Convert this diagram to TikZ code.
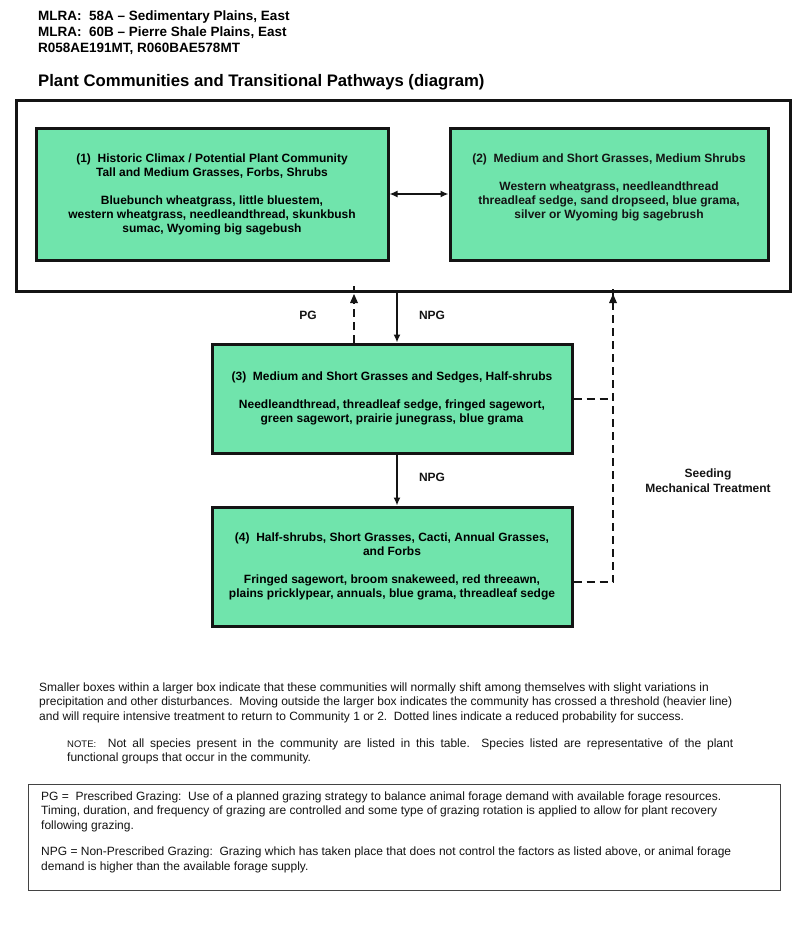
\documentclass[tikz,border=0pt]{standalone}
\usepackage{fontspec}
\setmainfont{Liberation Sans}
\usetikzlibrary{arrows.meta}
\definecolor{boxgreen}{RGB}{112,228,172}
\definecolor{ink}{RGB}{20,20,20}
\begin{document}
\begin{tikzpicture}[x=1pt,y=-1pt,
  commbox/.style={draw=ink,line width=3pt,fill=boxgreen,inner sep=0pt,align=center,
    font=\bfseries\fontsize{12}{14}\selectfont},
  lbl/.style={font=\bfseries\fontsize{12}{14}\selectfont,align=center,text=ink},
  arr/.style={draw=ink,line width=1.5pt,-{Latex[length=8pt,width=7pt]}},
  dasharr/.style={draw=ink,line width=2pt,dash pattern=on 8pt off 5pt},
  body/.style={font=\fontsize{12}{14.5}\selectfont,align=left,text=ink,inner sep=0pt}
]
\useasboundingbox (0,0) rectangle (800,948);
\fill[white] (0,0) rectangle (800,948);

% header
\node[anchor=base west,inner sep=0pt,align=left,font=\bfseries\fontsize{13.5}{16}\selectfont] (hdr) at (38,52)
  {MLRA:\ \ 58A -- Sedimentary Plains, East\\MLRA:\ \ 60B -- Pierre Shale Plains, East\\R058AE191MT, R060BAE578MT};
\node[anchor=base west,inner sep=0pt,font=\bfseries\fontsize{16.7}{18}\selectfont] (title) at (38,86)
  {Plant Communities and Transitional Pathways (diagram)};

% outer box
\node[draw=ink,line width=3pt,minimum width=774pt,minimum height=191pt,inner sep=0pt] (outer) at (403,195.5) {};

% community boxes
\node[commbox,minimum width=352pt,minimum height=132pt] (box1) at (212,194)
  {(1)\ \ Historic Climax / Potential Plant Community\\Tall and Medium Grasses, Forbs, Shrubs\\[14pt]
   Bluebunch wheatgrass, little bluestem,\\western wheatgrass, needleandthread, skunkbush\\sumac, Wyoming big sagebush};
\node[commbox,minimum width=318pt,minimum height=132pt] (box2) at (609,194) {};
\node[lbl,anchor=base] (t2) at (609,218)
  {(2)\ \ Medium and Short Grasses, Medium Shrubs\\[14pt]
   Western wheatgrass, needleandthread\\threadleaf sedge, sand dropseed, blue grama,\\silver or Wyoming big sagebrush};
\node[commbox,minimum width=360pt,minimum height=109pt] (box3) at (392,398.5)
  {(3)\ \ Medium and Short Grasses and Sedges, Half-shrubs\\[14pt]
   Needleandthread, threadleaf sedge, fringed sagewort,\\green sagewort, prairie junegrass, blue grama};
\node[commbox,minimum width=360pt,minimum height=119pt] (box4) at (392,566.5)
  {(4)\ \ Half-shrubs, Short Grasses, Cacti, Annual Grasses,\\and Forbs\\[14pt]
   Fringed sagewort, broom snakeweed, red threeawn,\\plains pricklypear, annuals, blue grama, threadleaf sedge};

% helper coordinates
\coordinate (pgx) at (354,0);
\coordinate (npgx) at (397,0);
\coordinate (seedx) at (613,0);
\coordinate (j3) at (613,399);
\coordinate (j4) at (613,582);

% connectors
\draw[draw=ink,line width=1.5pt,{Latex[length=8pt,width=7pt]}-{Latex[length=8pt,width=7pt]}] (box1.east) -- (box2.west);
\draw[arr] (outer.south -| npgx) -- (box3.north -| npgx);
\draw[arr] (box3.south -| npgx) -- (box4.north -| npgx);
\draw[dasharr] (box3.north -| pgx) -- ([yshift=7pt]outer.south -| pgx);
\fill[ink] (outer.south -| pgx) ++(0,1.5) -- ++(-4,9) -- ++(8,0) -- cycle;
\draw[dasharr] (box3.east |- j3) -- (j3);
\draw[dasharr] (box4.east |- j4) -- (j4) -- ([yshift=7pt]outer.south -| seedx);
\fill[ink] (outer.south -| seedx) ++(0,1.5) -- ++(-4,9) -- ++(8,0) -- cycle;

% labels
\node[lbl] (pg) at (308,315) {PG};
\node[lbl] (npg1) at (432,315) {NPG};
\node[lbl] (npg2) at (432,477) {NPG};
\node[lbl,font=\bfseries\fontsize{12}{15}\selectfont] (seed) at (708,481) {Seeding\\Mechanical Treatment};

% explanatory text
\node[body,anchor=base west] (para) at (39,720)
  {Smaller boxes within a larger box indicate that these communities will normally shift among themselves with slight variations in\\
   precipitation and other disturbances.\ \ Moving outside the larger box indicates the community has crossed a threshold (heavier line)\\
   and will require intensive treatment to return to Community 1 or 2.\ \ Dotted lines indicate a reduced probability for success.};
\node[body,anchor=base west,text width=666pt,align=justify] (note) at (67,747)
  {{\fontsize{9.5}{14.5}\selectfont NOTE:}\ \ Not all species present in the community are listed in this table.\ \ Species listed are representative of the plant\linebreak functional groups that occur in the community.};

% definitions box
\node[draw=ink!80,line width=1pt,minimum width=752pt,minimum height=106pt,inner sep=0pt] (defbox) at (404,837) {};
\node[body,anchor=base west] (pgdef) at (41,829)
  {PG =\ \ Prescribed Grazing:\ \ Use of a planned grazing strategy to balance animal forage demand with available forage resources.\\
   Timing, duration, and frequency of grazing are controlled and some type of grazing rotation is applied to allow for plant recovery\\
   following grazing.};
\node[body,anchor=base west] (npgdef) at (41,870)
  {NPG = Non-Prescribed Grazing:\ \ Grazing which has taken place that does not control the factors as listed above, or animal forage\\
   demand is higher than the available forage supply.};
\end{tikzpicture}
\end{document}
